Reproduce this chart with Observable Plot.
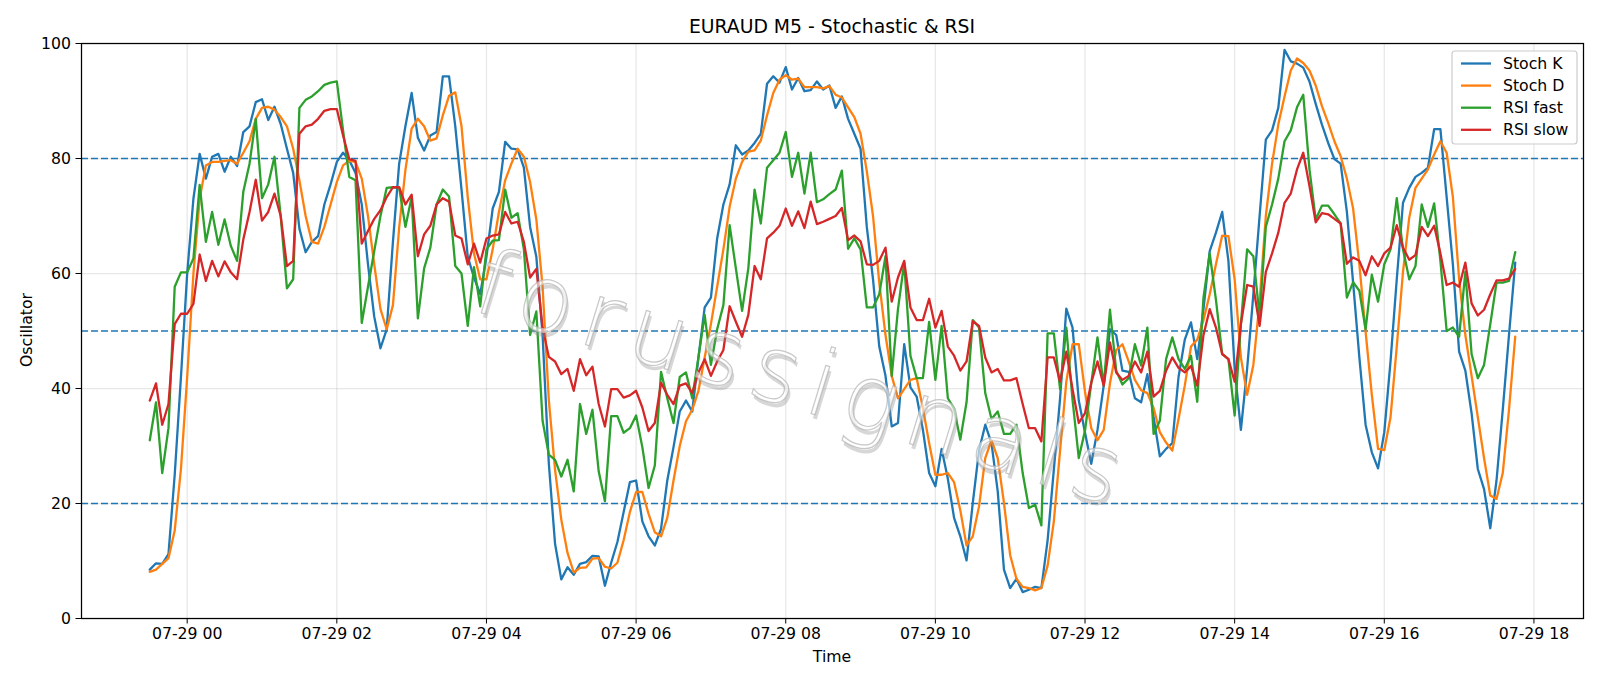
<!DOCTYPE html>
<html><head><meta charset="utf-8">
<script src="https://cdn.jsdelivr.net/npm/d3@7"></script>
<script src="https://cdn.jsdelivr.net/npm/@observablehq/plot@0.6"></script>
<style>
body{margin:0;background:#fff;}
#chart svg{display:block;}
</style></head><body>
<div id="chart"></div>
<script>
const startTime = "2024-07-28T23:30:00Z";
const stepMinutes = 5;
const stochK = [
8.5,9.6,9.5,11.2,25,42,60,73,80.8,76.5,
80.3,80.8,77.7,80.3,78.7,84.6,85.6,89.8,90.3,86.7,
89,86,81.7,77.5,67.8,63.7,65.5,66.5,72,75.5,
79.4,81,79.7,77.5,72,61.6,52.5,47,50.3,65.5,
79.1,85.6,91.4,83.6,81.4,84,84.6,94.3,94.3,85.6,
74.6,62.9,59.3,56.4,62.9,71.3,74.2,82.9,81.7,81.6,
78.4,68.1,62.9,49.3,27,13,6.8,8.9,7.6,9.5,
9.8,10.9,10.8,5.7,9.7,13.3,18.5,23.7,24,16.9,
14.3,12.7,15.6,24,29.8,36,37.9,36,45.4,54.1,
55.8,66.1,72,75.5,82.3,80.7,81.4,82.7,84.3,93,
94.3,93.2,95.9,92,94,91.7,91.9,93.4,92,92.7,
88.8,90.8,86.9,84.3,81.7,68.1,59,47.3,42.2,33.4,
34,47.7,40.2,38.6,32.8,25.3,23,29.5,24.3,17.5,
14.3,10.1,20.1,29.2,33.7,30.5,22.1,8.5,5.3,6.9,
4.6,5,5.5,5.3,13.6,25.9,38.3,53.9,50.6,37.9,
32.3,26.9,32.8,40.5,50.3,49.3,43.1,42.9,38.3,37.6,
42.5,35,28.2,29.5,30.5,42,48.5,51.5,45.1,53.8,
63.9,67.1,70.7,62.2,43.4,32.8,43.4,56.4,70,83.3,
84.9,88.8,98.9,96.9,96.5,95.8,93.4,89.5,85.9,82.7,
79.9,79.1,70.7,58.4,45.4,33.7,28.9,26.1,32.4,44.7,
59,72.3,74.9,76.8,77.5,78.4,85.1,85.1,73.3,61.6,
46.4,43.1,35.7,26,22.5,15.7,24,36.3,49.3,61.9];
const stochD = [
8.1,8.5,9.5,10.5,15.3,26,42,60,73,78.8,
79.4,79.4,79.6,79.7,79.1,81,83,86.9,88.8,89,
88.5,87.2,85.6,81.7,76.2,70,65.5,65.2,68.1,72,
75.9,78.8,79.6,79.4,76.5,70,61.6,53.8,50.3,54.5,
68,78,85.2,86.9,85.6,83.1,83.5,87.5,90.9,91.5,
85.6,73.3,63.5,59,59,64.2,70.7,76.2,79.1,81.7,
80.3,75.9,69.4,57.7,38,25.9,17.2,11.4,8,8.8,
8.9,10.4,10.5,9,8.7,9.7,13.6,18.5,22,22,
18.2,15,14.3,17.5,24,30,34.3,36.3,39.6,45.4,
51.2,57.7,64.2,71.6,76.5,79.4,81.2,81.4,83.1,87.5,
91.4,93.7,94.5,93.7,93.9,92.4,92.4,92.4,92.2,92.6,
91.1,90.6,88.9,87.2,84.3,77.8,70,58.4,49.3,42.2,
38.3,39.9,41.5,41.8,36.6,30.5,25,25,25.3,23.7,
18.8,12.7,14.3,19.5,27.9,31,27.9,20.1,11,6.9,
5.5,5.3,4.9,5.3,9.2,16.9,29.2,41.2,47.7,47.7,
39.4,33.1,31,32.8,40.9,46.7,47.7,44.7,41.5,39.7,
39.2,36.6,32.4,30.6,29.2,34.7,40.5,47.3,48.5,51.9,
56.4,61.6,66.6,66.5,59,45.4,38.9,44.1,55.1,70,
79.1,85.9,90.8,95.3,97.4,96.6,95.3,92.7,89.1,86.2,
83,80.4,76.5,71.3,61.6,49.9,38.9,29.5,29.3,35,
47.3,60.3,69.7,74.9,76.5,78.1,80.7,83,81,73.3,
59,49.3,42.2,35,27.9,21.4,20.8,25.3,36.3,49];
const rsiFast = [
31,37.6,25.3,33.1,57.7,60.2,60.2,62.6,75.4,65.5,
70.7,65,69.4,64.8,62.2,74.2,79.1,86.9,73.1,75.5,
80.3,70,57.4,59,88.8,90.2,90.8,91.7,92.8,93.2,
93.4,84.9,76.8,76.2,51.4,57.7,63.9,70,74.9,75,
74.9,68.1,73.3,52.2,60.9,64.5,72,74.6,73.4,61.3,
60,50.9,61.1,54.3,64.2,65.7,65.8,74.6,69.7,70.5,
64.2,49.3,53.4,34.4,28.5,27.6,24.7,27.6,22.1,37.3,
32.1,36.3,25.6,20.4,35.2,35.2,32.3,33.1,35.3,29.8,
22.7,26.6,42.9,38.3,34,42,42.8,38.3,45.4,52.8,
44.1,50.3,54.5,68.4,60.9,53.5,60.9,74.6,68.7,78.4,
79.7,81,84.6,76.8,81,73.9,81,72.4,72.9,73.8,
74.6,77.9,64.3,66.1,64.2,54.1,54.1,56.4,63,42.2,
53.8,61.9,45.7,41.8,41.8,51.6,41.5,50.9,38.3,36.5,
31.1,37.6,51.9,50.6,39.2,34.7,36,32.1,32.1,33.7,
25.3,19.2,19.8,16.2,49.6,49.6,39.9,50.6,38,27.9,
32.7,40.9,48.9,40.5,53.7,43.1,40.7,41.8,47.7,44,
50.6,32.1,34.4,45.1,48.9,45.1,43.4,45.7,37.7,55.8,
63.5,55.4,46,45.1,35.3,51.2,64.2,63,52.5,68.1,
72,76.5,83,84.9,88.9,91.1,78.1,69.4,71.8,71.8,
70.3,68.7,55.8,58.5,57,50.3,59.8,55.1,61.6,64.2,
73.1,64.2,59,61.3,72,68.1,72.2,62.2,50,50.6,
49,60.3,46,41.8,44.1,51.2,58.4,58.4,58.7,63.7];
const rsiSlow = [
37.9,40.9,33.7,37.3,51.2,53,53,54.7,63.3,58.7,
62.2,59.5,62.1,60.2,59,65.9,70.7,76.3,69.2,70.7,
73.9,70,61.3,62.2,84.3,85.6,85.9,86.9,88.3,88.6,
88.6,84,79.9,79.6,65.2,67.4,69.5,71,73.3,75,
75,72,73.7,63,66.8,68.3,72,73.1,72.5,66.6,
66.1,61.6,65.2,61.9,66.1,66.6,66.8,70.7,68.7,69,
65.5,59.3,60.8,50.6,45.5,44.7,42.5,43.4,39.6,45.1,
42.3,43.8,37.3,33.4,39.9,39.9,38.4,38.8,39.6,36.7,
32.6,34,41,38.9,37.3,40.5,40.9,39.2,42.8,45.1,
42.2,44.7,46.7,54.3,51.6,49,52.8,61.3,59,66.1,
67.1,68.3,71.3,68.3,70.8,67.9,72.5,68.6,69,69.5,
70,71.4,65.8,66.6,65.6,61.6,61.5,62.2,64.5,55.1,
59.3,62.2,54.1,51.9,51.9,55.6,50.6,53.5,47.3,45.7,
43.1,44.7,51.7,50.9,45.4,42.8,43.4,41.4,41.4,41.8,
37.3,33.1,33.1,30.8,45.4,45.4,41.2,46.4,39.9,34,
35.7,41,44.7,40.5,48,42.8,41.5,42.2,44.7,42.8,
46.4,38.6,39.6,43.1,45.4,43.6,42.8,43.9,40.5,49.3,
53.8,50.6,46,45.1,41.2,51.2,58,57.7,50.9,60.3,
63.5,67.1,72.3,73.9,78.1,81,75.2,68.9,70.5,70.3,
69.5,68.7,61.7,62.8,62.2,59.7,63,61.3,63.5,64.5,
68.4,64.5,62.4,63.2,68.1,66.5,68.3,63.5,58,58.4,
57.7,61.9,54.8,52.7,53.7,56.4,58.8,58.8,59.1,60.8];
const seriesNames = ["Stoch K", "Stoch D", "RSI fast", "RSI slow"];
const seriesColors = ["#1f77b4", "#ff7f0e", "#2ca02c", "#d62728"];
const levels = [20, 50, 80];
const yTicks = [0, 20, 40, 60, 80, 100];
const xTickHours = [0, 2, 4, 6, 8, 10, 12, 14, 16, 18];
const tickDay = "2024-07-29";
const titleText = "EURAUD M5 - Stochastic & RSI";
const xLabel = "Time";
const yLabel = "Oscillator";
const watermarkText = "forussignals";

const t0 = new Date(startTime);
const time = stochK.map((_, i) => new Date(+t0 + i * stepMinutes * 60000));
const rows = [];
[stochK, stochD, rsiFast, rsiSlow].forEach((arr, s) =>
  arr.forEach((v, i) => rows.push({t: time[i], v, s: seriesNames[s]})));
const tMin = time[0], tMax = time[time.length - 1];
const pad = (tMax - tMin) * 0.05;
const xTicks = xTickHours.map(h => new Date(`${tickDay}T${String(h).padStart(2, "0")}:00:00Z`));
const fmt = d3.utcFormat("%m-%d %H");

const FS = 15.7;
const chart = Plot.plot({
  width: 1600, height: 686,
  marginLeft: 81, marginRight: 17, marginTop: 43, marginBottom: 68,
  style: {fontFamily: "'DejaVu Sans', sans-serif", fontSize: FS + "px", background: "white", color: "black"},
  x: {type: "utc", domain: [new Date(+tMin - pad), new Date(+tMax + pad)]},
  y: {domain: [0, 100]},
  color: {domain: seriesNames, range: seriesColors},
  marks: [
    Plot.gridX(xTicks, {stroke: "#b0b0b0", strokeOpacity: 0.3, strokeWidth: 1.25}),
    Plot.gridY(yTicks, {stroke: "#b0b0b0", strokeOpacity: 0.3, strokeWidth: 1.25}),
    Plot.ruleY(levels, {stroke: "#1f77b4", strokeWidth: 1.5, strokeDasharray: "7,3"}),
    Plot.line(rows, {x: "t", y: "v", z: "s", stroke: "s", strokeWidth: 2.3, strokeLinejoin: "round"}),
    Plot.frame({stroke: "black", strokeWidth: 1.25}),
    Plot.axisX({ticks: xTicks, tickFormat: fmt, tickSize: 5.5, tickPadding: 4, label: null, fontSize: FS}),
    Plot.axisY({ticks: yTicks, tickSize: 5.5, tickPadding: 5, label: null, fontSize: FS})
  ]
});
document.getElementById("chart").appendChild(chart);

const svg = d3.select(chart);
const font = "'DejaVu Sans', sans-serif";
// title
svg.append("text").attr("x", 832).attr("y", 26).attr("text-anchor", "middle").attr("dy", "0.35em")
  .attr("font-family", font).attr("font-size", 18.8).attr("fill", "black").text(titleText);
// axis labels
svg.append("text").attr("x", 832).attr("y", 657).attr("text-anchor", "middle").attr("dy", "0.35em")
  .attr("font-family", font).attr("font-size", FS).attr("fill", "black").text(xLabel);
svg.append("text").attr("transform", "translate(26,330) rotate(-90)").attr("text-anchor", "middle").attr("dy", "0.35em")
  .attr("font-family", font).attr("font-size", FS).attr("fill", "black").text(yLabel);

// watermark
const wm = svg.append("g").attr("transform", "translate(805,378) rotate(17)").attr("pointer-events", "none");
wm.append("text").attr("x", 3).attr("y", 4).attr("text-anchor", "middle").attr("dy", "0.35em")
  .attr("font-family", font).attr("font-size", 92).attr("font-weight", 200).attr("letter-spacing", 11)
  .attr("fill", "#8c8c8c").attr("fill-opacity", 0.35).text(watermarkText);
wm.append("text").attr("text-anchor", "middle").attr("dy", "0.35em")
  .attr("font-family", font).attr("font-size", 92).attr("font-weight", 200).attr("letter-spacing", 11)
  .attr("fill", "#ffffff").attr("fill-opacity", 0.6).attr("stroke", "#b5b5b5").attr("stroke-width", 1.2).attr("stroke-opacity", 0.75)
  .text(watermarkText);

// legend
const lg = svg.append("g").attr("text-anchor", "start");
lg.append("rect").attr("x", 1452).attr("y", 51).attr("width", 125).attr("height", 93).attr("rx", 3)
  .attr("fill", "white").attr("fill-opacity", 0.8).attr("stroke", "#cccccc").attr("stroke-width", 1.2);
seriesNames.forEach((name, i) => {
  const y = 63.5 + i * 22.1;
  lg.append("line").attr("x1", 1461).attr("x2", 1491).attr("y1", y).attr("y2", y)
    .attr("stroke", seriesColors[i]).attr("stroke-width", 2.3);
  lg.append("text").attr("x", 1503).attr("y", y).attr("dy", "0.35em").attr("text-anchor", "start")
    .attr("font-family", font).attr("font-size", FS).attr("fill", "black").text(name);
});
</script>
</body></html>
